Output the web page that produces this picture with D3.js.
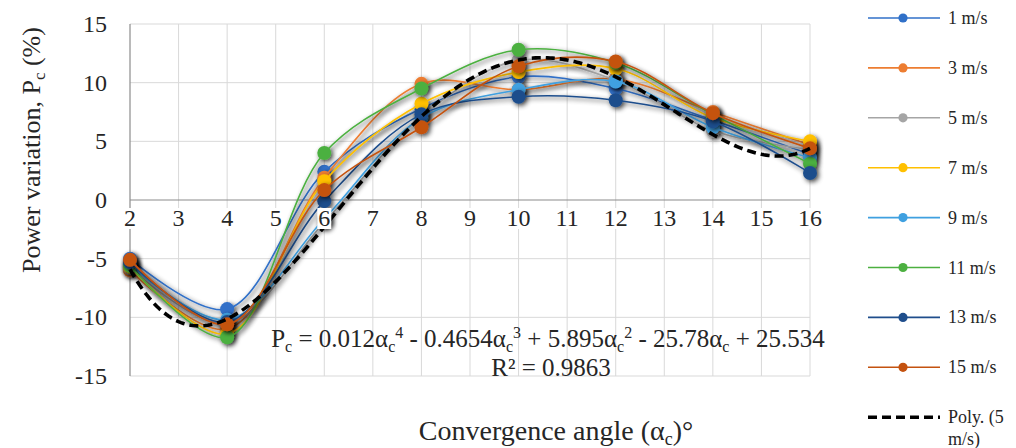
<!DOCTYPE html>
<html>
<head>
<meta charset="utf-8">
<script src="https://cdn.jsdelivr.net/npm/d3@7/dist/d3.min.js"></script>
<style>
  body { margin: 0; background: #fff; }
  svg { display: block; }
  text { font-family: "Liberation Serif", "Times New Roman", serif; fill: #262626; }
</style>
</head>
<body>
<svg id="chart" width="1016" height="448"></svg>
<script>
// Convergence angle (degrees) at which each wind speed was tested
const angles = [2, 4, 6, 8, 10, 12, 14, 16];

// Power variation Pc (%) per wind speed
const v1  = [-5.0,  -9.3,  2.4, 7.8, 10.5,  9.5, 6.8, 3.9];
const v3  = [-6.0, -11.0,  1.9, 9.9,  9.4, 10.3, 7.5, 4.7];
const v5  = [-5.8, -10.5, -1.9, 7.1, 11.9, 10.2, 5.9, 4.3];
const v7  = [-5.7, -11.4,  1.6, 8.2, 10.9, 11.2, 7.0, 5.0];
const v9  = [-5.5, -10.2, -1.6, 7.0,  9.4, 10.1, 6.2, 3.6];
const v11 = [-5.6, -11.7,  4.0, 9.5, 12.8, 11.7, 7.3, 3.1];
const v13 = [-5.3, -10.4, -0.1, 7.3,  8.8,  8.5, 6.7, 2.3];
const v15 = [-5.1, -10.6, 0.85, 6.2, 11.4, 11.8, 7.4, 4.4];

const seriesNames  = ["1 m/s", "3 m/s", "5 m/s", "7 m/s", "9 m/s", "11 m/s", "13 m/s", "15 m/s"];
const seriesValues = [v1, v3, v5, v7, v9, v11, v13, v15];
const seriesColors = ["#3070C8", "#ED7D31", "#A5A5A5", "#FFC000", "#3FA0E0", "#4CB040", "#1F4E8C", "#C4520F"];

const xTicks = [2, 3, 4, 5, 6, 7, 8, 9, 10, 11, 12, 13, 14, 15, 16];
const yTicks = [-15, -10, -5, 0, 5, 10, 15];

const trendLabel = ["Poly. (5", "m/s)"];
const trendDegree = 4;

const svg = d3.select("#chart");

const x = d3.scaleLinear().domain([2, 16]).range([130, 810]);
const y = d3.scaleLinear().domain([-15, 15]).range([376, 24]);

// soft outer shadow used on the data series
const defs = svg.append("defs");
const f = defs.append("filter").attr("id", "shadow")
  .attr("x", "-50%").attr("y", "-50%").attr("width", "200%").attr("height", "200%");
f.append("feGaussianBlur").attr("in", "SourceAlpha").attr("stdDeviation", 2.5).attr("result", "b");
f.append("feOffset").attr("in", "b").attr("dx", 1.5).attr("dy", 2).attr("result", "o");
f.append("feComponentTransfer").attr("in", "o").attr("result", "s")
  .append("feFuncA").attr("type", "linear").attr("slope", 0.75);
const m = f.append("feMerge");
m.append("feMergeNode").attr("in", "s");
m.append("feMergeNode").attr("in", "SourceGraphic");

// gridlines
const grid = svg.append("g");
grid.selectAll("line.v").data(xTicks.filter(d => d !== 2)).join("line")
  .attr("x1", d => x(d)).attr("x2", d => x(d))
  .attr("y1", y(15)).attr("y2", y(-15))
  .attr("stroke", "#D9D9D9").attr("stroke-width", 1);
grid.selectAll("line.h").data(yTicks.filter(d => d !== 0)).join("line")
  .attr("x1", x(2)).attr("x2", x(16))
  .attr("y1", d => y(d)).attr("y2", d => y(d))
  .attr("stroke", "#D9D9D9").attr("stroke-width", 1);

// axis lines
svg.append("line").attr("x1", x(2)).attr("x2", x(2)).attr("y1", y(15)).attr("y2", y(-15))
  .attr("stroke", "#8C8C8C").attr("stroke-width", 1.2);
svg.append("line").attr("x1", x(2)).attr("x2", x(16)).attr("y1", y(0)).attr("y2", y(0))
  .attr("stroke", "#8C8C8C").attr("stroke-width", 1.2);

// series: smoothed line with circle markers
const line = d3.line().x(d => x(d[0])).y(d => y(d[1])).curve(d3.curveCatmullRom.alpha(0.5));
seriesValues.forEach((vals, i) => {
  const pts = angles.map((a, j) => [a, vals[j]]);
  const g = svg.append("g").attr("filter", "url(#shadow)");
  g.append("path").attr("d", line(pts)).attr("fill", "none")
    .attr("stroke", seriesColors[i]).attr("stroke-width", 1.6);
  g.selectAll("circle").data(pts).join("circle")
    .attr("cx", d => x(d[0])).attr("cy", d => y(d[1])).attr("r", 7)
    .attr("fill", seriesColors[i]);
});

// least-squares polynomial trendline of the 5 m/s series
function polyfit(xs, ys, deg) {
  const n = deg + 1;
  const A = Array.from({length: n}, () => new Array(n + 1).fill(0));
  for (let r = 0; r < n; r++) {
    for (let c = 0; c < n; c++) A[r][c] = d3.sum(xs, xv => Math.pow(xv, r + c));
    A[r][n] = d3.sum(xs, (xv, k) => ys[k] * Math.pow(xv, r));
  }
  for (let c = 0; c < n; c++) {
    let p = c;
    for (let r = c + 1; r < n; r++) if (Math.abs(A[r][c]) > Math.abs(A[p][c])) p = r;
    [A[c], A[p]] = [A[p], A[c]];
    for (let r = 0; r < n; r++) {
      if (r === c) continue;
      const k = A[r][c] / A[c][c];
      for (let k2 = c; k2 <= n; k2++) A[r][k2] -= k * A[c][k2];
    }
  }
  return A.map((row, r) => row[n] / row[r]);
}
const coef = polyfit(angles, v5, trendDegree);
const evalPoly = t => coef.reduce((s, c, k) => s + c * Math.pow(t, k), 0);
const trendPts = d3.range(2, 16.0001, 0.05).map(t => [t, evalPoly(t)]);
svg.append("path")
  .attr("d", d3.line().x(d => x(d[0])).y(d => y(d[1]))(trendPts))
  .attr("fill", "none").attr("stroke", "#000").attr("stroke-width", 3.6)
  .attr("stroke-dasharray", "9,5");

// x tick labels (white boxed, drawn over the plot)
const xl = svg.append("g");
xTicks.forEach(t => {
  const tg = xl.append("g");
  const tx = tg.append("text").attr("x", x(t)).attr("y", 226)
    .attr("text-anchor", "middle").attr("font-size", 24).text(t);
  const bb = tx.node().getBBox();
  tg.insert("rect", "text").attr("x", bb.x - 1).attr("y", bb.y + 3)
    .attr("width", bb.width + 2).attr("height", bb.height - 5).attr("fill", "#fff");
});

// y tick labels
svg.append("g").selectAll("text").data(yTicks).join("text")
  .attr("x", 107).attr("y", d => y(d) + 8)
  .attr("text-anchor", "end").attr("font-size", 24).text(d => d);

// axis titles
const yt = svg.append("text").attr("transform", "translate(40,150) rotate(-90)")
  .attr("text-anchor", "middle").attr("font-size", 26);
yt.append("tspan").text("Power variation, P");
yt.append("tspan").attr("font-size", 17).attr("dy", 5).text("c");
yt.append("tspan").attr("dy", -5).text(" (%)");

const xt = svg.append("text").attr("x", 556).attr("y", 440)
  .attr("text-anchor", "middle").attr("font-size", 28);
xt.append("tspan").text("Convergence angle (α");
xt.append("tspan").attr("font-size", 18).attr("dy", 5).text("c");
xt.append("tspan").attr("dy", -5).text(")°");

// trendline equation and R²
const eq = svg.append("text").attr("x", 548).attr("y", 347)
  .attr("text-anchor", "middle").attr("font-size", 25);
const eqParts = [
  ["P", 0], ["c", 1], [" = 0.012α", 0], ["c", 1], ["4", 2],
  [" - 0.4654α", 0], ["c", 1], ["3", 2], [" + 5.895α", 0], ["c", 1], ["2", 2],
  [" - 25.78α", 0], ["c", 1], [" + 25.534", 0]
];
let shift = 0;
eqParts.forEach(([s, k]) => {
  const target = k === 1 ? 5 : k === 2 ? -9 : 0;
  eq.append("tspan").attr("dy", target - shift).attr("font-size", k ? 16 : 25).text(s);
  shift = target;
});
const r2 = svg.append("text").attr("x", 551).attr("y", 376)
  .attr("text-anchor", "middle").attr("font-size", 25);
r2.append("tspan").text("R² = 0.9863");

// legend
const lg = svg.append("g");
const step = 49.9;
seriesNames.forEach((name, i) => {
  const ly = 18 + i * step;
  lg.append("line").attr("x1", 868).attr("x2", 940).attr("y1", ly).attr("y2", ly)
    .attr("stroke", seriesColors[i]).attr("stroke-width", 1.6);
  lg.append("circle").attr("cx", 903).attr("cy", ly).attr("r", 4.6).attr("fill", seriesColors[i]);
  lg.append("text").attr("x", 948).attr("y", ly + 6).attr("font-size", 18).text(name);
});
const ty = 18 + seriesNames.length * step;
lg.append("line").attr("x1", 868).attr("x2", 940).attr("y1", ty).attr("y2", ty)
  .attr("stroke", "#000").attr("stroke-width", 3.6).attr("stroke-dasharray", "9,5");
lg.append("text").attr("x", 948).attr("y", ty + 6).attr("font-size", 18).text(trendLabel[0]);
lg.append("text").attr("x", 948).attr("y", ty + 28).attr("font-size", 18).text(trendLabel[1]);
</script>
</body>
</html>
